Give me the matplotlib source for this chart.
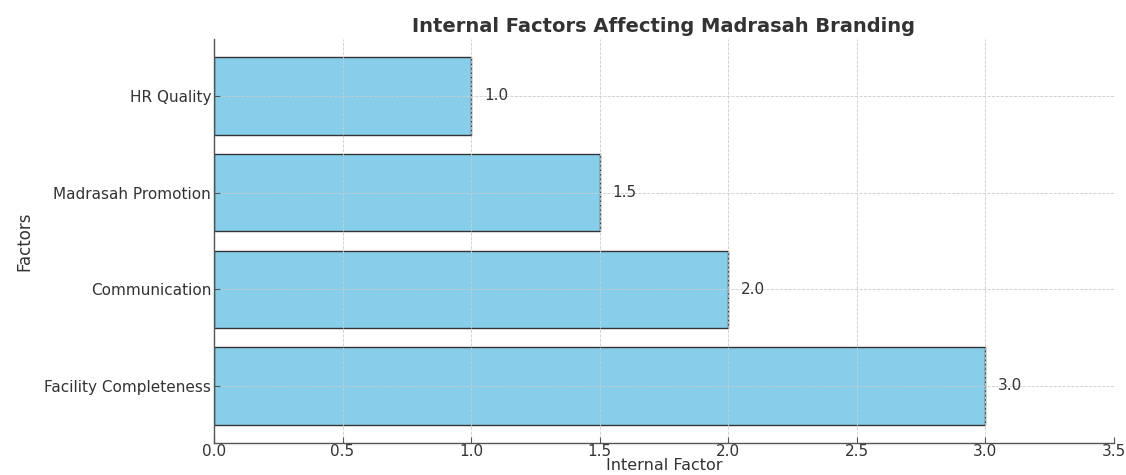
import matplotlib
matplotlib.use("Agg")
import matplotlib.pyplot as plt

plt.rcParams["font.family"] = ["DejaVu Sans"]

factors = ["Facility Completeness", "Communication", "Madrasah Promotion", "HR Quality"]
values = [3.0, 2.0, 1.5, 1.0]
x_ticks = [0.0, 0.5, 1.0, 1.5, 2.0, 2.5, 3.0, 3.5]

text_color = "#333333"
fig = plt.figure(figsize=(11.26, 4.75), dpi=100)
ax = fig.add_axes([0.190, 0.0674, 0.7993, 0.8506])

bars = ax.barh(factors, values, color="#87CEEB", edgecolor="#333333", linewidth=1.0, height=0.8)
for b, v in zip(bars, values):
    ax.text(v + 0.05, b.get_y() + b.get_height() / 2, f"{v:.1f}", va="center", ha="left",
            fontsize=11, color=text_color)

ax.set_xlim(0, 3.5)
ax.set_xticks(x_ticks)
ax.set_xticklabels([f"{t:.1f}" for t in x_ticks])
ax.grid(True, linestyle="--", color="#cccccc", linewidth=0.6)
for s in ["top", "right"]:
    ax.spines[s].set_visible(False)
for s in ["left", "bottom"]:
    ax.spines[s].set_color("#555555")
    ax.spines[s].set_linewidth(1.0)
ax.tick_params(direction="in", colors="#555555", labelcolor=text_color, labelsize=11, length=4, pad=2)
ax.tick_params(axis="x", pad=1)

ax.set_title("Internal Factors Affecting Madrasah Branding", fontsize=14, fontweight="bold",
             color=text_color, pad=5)
ax.set_xlabel("Internal Factor", fontsize=11.5, color=text_color, labelpad=-1)
ax.set_ylabel("Factors", fontsize=12, color=text_color, labelpad=8)

fig.savefig("out.png", dpi=100)
